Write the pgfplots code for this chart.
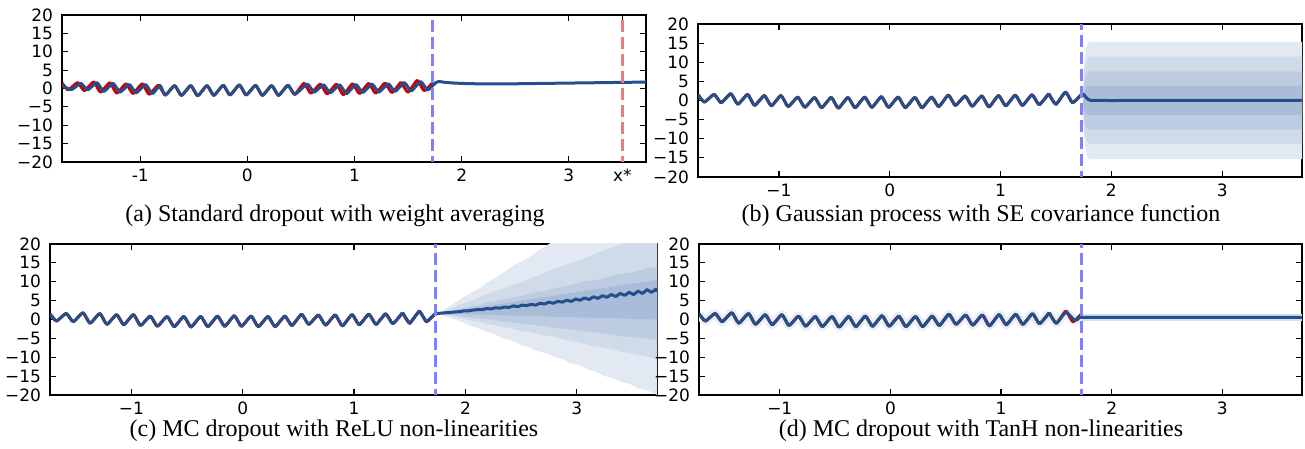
\documentclass[border=0pt]{standalone}
\usepackage{fontspec}
\setmainfont{Liberation Serif}
\newfontfamily\dejavu{DejaVu Sans}
\usepackage{pgfplots}
\pgfplotsset{compat=1.18}
\usepackage{pgfplotstable}

\definecolor{meanblue}{HTML}{234F8C}
\definecolor{datared}{HTML}{CC0000}
\definecolor{dashblue}{HTML}{8080FF}
\definecolor{dashred}{HTML}{E58080}
\definecolor{bandA}{HTML}{E3E9F2}
\definecolor{bandB}{HTML}{D0DBEA}
\definecolor{bandC}{HTML}{BDCCE1}
\definecolor{bandD}{HTML}{AABDD8}
\definecolor{halo}{HTML}{EAEFF6}
\definecolor{halob}{HTML}{D6E0EE}

% training data (x <= 1.435), shared by all panels
\pgfplotstableread{
x y
-1.73 1.5
-1.672 -0.4
-1.585 1.6
-1.521 -0.6
-1.434 1.8
-1.370 -1.0
-1.283 1.6
-1.219 -1.3
-1.132 1.3
-1.068 -1.4
-0.981 1.3
-0.917 -1.6
-0.830 0.9
-0.766 -1.8
-0.679 0.8
-0.615 -1.9
-0.528 0.8
-0.464 -2.0
-0.377 0.8
-0.313 -1.9
-0.226 0.9
-0.162 -1.8
-0.075 1.0
-0.011 -1.8
0.076 0.9
0.140 -1.9
0.227 0.8
0.291 -1.9
0.378 0.9
0.442 -1.6
0.529 1.4
0.593 -1.3
0.680 1.2
0.744 -1.5
0.831 1.2
0.895 -1.7
0.982 1.3
1.046 -1.4
1.133 1.4
1.197 -1.3
1.284 1.5
1.348 -1.1
1.435 1.8
}\trainhead

\pgfplotsset{
  panel/.style={
    scale only axis, anchor=south west,
    xmin=-1.73, xmax=3.72, ymin=-20, ymax=20,
    ytick={-20,-15,...,20}, yticklabels={−20,−15,−10,−5,0,5,10,15,20},
    xtick={-1,0,1,2,3}, xticklabels={−1,0,1,2,3},
    tick align=inside, major tick length=3pt,
    tick style={black, line width=0.6pt},
    axis line style={line width=0.9pt},
    tick label style={font=\dejavu\fontsize{8.5}{10}\selectfont},
    yticklabel style={xshift=-1pt},
    no markers,
  },
  mean/.style={meanblue, line width=1.5pt, line join=round, smooth, tension=0.3},
  data/.style={datared, line width=1.5pt, line join=round, smooth, tension=0.3},
  split/.style={dashblue, line width=1.5pt, dash pattern=on 6pt off 2.5pt, dash phase=3pt},
}

\begin{document}
\begin{tikzpicture}
\useasboundingbox (0,0) rectangle (652.5pt,224.5pt);

% (a) standard dropout
\begin{axis}[panel, at={(31pt,143.5pt)}, width=292pt, height=73.5pt,
  xtick={-1,0,1,2,3,3.5}, xticklabels={-1,0,1,2,3,x*}]
\addplot[data] table {\trainhead};
\addplot[data] coordinates {(1.435,1.8)(1.499,-1.0)(1.586,2.2)(1.650,-0.6)(1.73,1.6)};
\addplot[mean] coordinates {
(-1.73,0.8)(-1.642,-0.3)(-1.555,1.4)(-1.491,-0.4)(-1.404,1.6)(-1.340,-0.8)
(-1.253,1.4)(-1.189,-1.0)(-1.102,1.1)(-1.038,-1.2)(-0.951,1.1)(-0.887,-1.4)
(-0.815,0.8)(-0.766,-1.8)(-0.679,0.8)(-0.615,-1.9)(-0.528,0.8)(-0.464,-2.0)
(-0.377,0.8)(-0.313,-1.9)(-0.226,0.9)(-0.162,-1.8)(-0.075,1.0)(-0.011,-1.8)
(0.076,0.9)(0.140,-1.9)(0.227,0.8)(0.291,-1.9)(0.378,0.9)(0.442,-1.6)
(0.559,1.2)(0.623,-1.0)(0.710,1.0)(0.774,-1.2)(0.861,1.0)(0.925,-1.4)
(1.012,1.1)(1.076,-1.1)(1.163,1.2)(1.227,-1.0)(1.314,1.3)(1.378,-0.8)
(1.465,1.6)(1.529,-0.7)(1.616,1.9)(1.68,-0.4)(1.73,0.8)(1.76,1.6)(1.79,1.9)
(1.85,1.65)(1.95,1.45)(2.1,1.3)(2.4,1.25)(2.8,1.4)(3.2,1.55)(3.72,1.75)};
\addplot[split] coordinates {(1.73,-20)(1.73,20)};
\addplot[dashred, line width=1.5pt, dash pattern=on 6pt off 2.5pt, dash phase=3pt] coordinates {(3.5,-20)(3.5,20)};
\end{axis}

% (b) Gaussian process
\begin{axis}[panel, at={(349pt,136pt)}, width=302pt, height=76.5pt]
\addplot[fill=bandA, draw=none] coordinates {(1.745,0)(1.75,6.9)(1.76,11.5)(1.775,14.1)(1.80,15.3)(3.8,15.3)(3.8,-15.3)(1.80,-15.3)(1.775,-14.1)(1.76,-11.5)(1.75,-6.9)} -- cycle;
\addplot[fill=bandB, draw=none] coordinates {(1.745,0)(1.75,5.2)(1.76,8.6)(1.775,10.5)(1.80,11.45)(3.8,11.45)(3.8,-11.45)(1.80,-11.45)(1.775,-10.5)(1.76,-8.6)(1.75,-5.2)} -- cycle;
\addplot[fill=bandC, draw=none] coordinates {(1.745,0)(1.75,3.4)(1.76,5.7)(1.775,7.0)(1.80,7.6)(3.8,7.6)(3.8,-7.6)(1.80,-7.6)(1.775,-7.0)(1.76,-5.7)(1.75,-3.4)} -- cycle;
\addplot[fill=bandD, draw=none] coordinates {(1.745,0)(1.75,1.7)(1.76,2.85)(1.775,3.5)(1.80,3.8)(3.8,3.8)(3.8,-3.8)(1.80,-3.8)(1.775,-3.5)(1.76,-2.85)(1.75,-1.7)} -- cycle;
\addplot[data] table {\trainhead};
\addplot[data] coordinates {(1.435,1.8)(1.499,-1.0)(1.586,2.2)(1.650,-0.6)(1.73,1.6)};
\addplot[mean] table {\trainhead};
\addplot[mean] coordinates {(1.435,1.8)(1.499,-1.0)(1.586,2.2)(1.650,-0.6)(1.73,1.6)
(1.745,1.65)(1.77,0.9)(1.79,0.3)(1.81,0.05)(1.85,0)(2.5,0)(3.72,0)};
\addplot[split] coordinates {(1.73,-20)(1.73,20)};
\end{axis}

% (c) MC dropout, ReLU
\begin{axis}[panel, at={(25pt,27pt)}, width=303.5pt, height=75.5pt]
\addplot[fill=bandA, draw=none] coordinates {
(1.75,1.6)(1.9,4.3)(1.98,5.9)(2.05,7.1)(2.13,8.3)(2.2,9.9)(2.28,11.2)(2.35,12.6)(2.43,14.3)(2.5,15.4)(2.58,16.6)(2.65,18.2)(2.73,19.6)(2.8,21.0)(2.95,23.8)(3.72,38)
(3.8,38)(3.8,-20.6)
(3.72,-20.0)(3.64,-18.8)(3.55,-18.3)(3.47,-17.0)(3.4,-16.6)(3.32,-15.4)(3.25,-15.0)(3.17,-13.8)(3.1,-13.2)(3.02,-12.0)(2.95,-11.7)(2.87,-10.5)(2.8,-9.9)(2.72,-8.9)(2.65,-8.4)(2.57,-7.3)(2.5,-6.8)(2.42,-5.6)(2.35,-5.1)(2.27,-4.0)(2.2,-3.3)(2.12,-2.4)(2.05,-1.7)(1.98,-0.8)(1.9,0.0)} -- cycle;
\addplot[fill=bandB, draw=none] coordinates {
(1.75,1.6)(1.9,3.3)(1.98,4.2)(2.05,4.9)(2.13,6.0)(2.2,6.7)(2.28,7.6)(2.35,8.3)(2.43,9.3)(2.5,9.8)(2.58,10.9)(2.65,11.6)(2.73,12.6)(2.8,13.4)(2.88,14.3)(2.95,15.0)(3.03,15.8)(3.1,16.5)(3.18,17.6)(3.25,18.4)(3.33,19.1)(3.4,20.0)(3.55,21.6)(3.72,23.5)
(3.8,23.9)(3.8,-10.8)
(3.72,-10.5)(3.63,-9.8)(3.55,-9.4)(3.47,-8.9)(3.4,-8.6)(3.32,-7.9)(3.25,-7.5)(3.17,-7.1)(3.1,-6.7)(3.02,-6.1)(2.95,-5.8)(2.87,-5.1)(2.8,-4.7)(2.72,-4.3)(2.65,-3.9)(2.57,-3.3)(2.5,-3.0)(2.42,-2.5)(2.35,-2.1)(2.27,-1.5)(2.2,-1.2)(2.12,-0.6)(2.05,-0.2)(1.98,0.3)(1.9,0.7)} -- cycle;
\addplot[fill=bandC, draw=none] coordinates {
(1.75,1.6)(1.9,2.5)(2.05,3.5)(2.13,3.9)(2.2,4.5)(2.28,4.9)(2.35,5.4)(2.43,5.9)(2.5,6.2)(2.58,6.9)(2.65,7.3)(2.73,7.7)(2.8,8.3)(2.88,8.7)(2.95,9.1)(3.03,9.8)(3.1,10.2)(3.18,10.5)(3.25,11.0)(3.33,11.7)(3.4,12.1)(3.48,12.4)(3.55,12.9)(3.63,13.6)(3.72,14.0)
(3.8,14.3)(3.8,-5.8)
(3.72,-5.5)(3.63,-5.1)(3.55,-4.8)(3.47,-4.6)(3.4,-4.4)(3.32,-4.0)(3.25,-3.8)(3.17,-3.4)(3.1,-3.2)(3.02,-2.9)(2.95,-2.7)(2.87,-2.4)(2.8,-2.2)(2.72,-1.8)(2.65,-1.6)(2.57,-1.3)(2.5,-1.1)(2.42,-0.8)(2.35,-0.6)(2.27,-0.2)(2.2,0.0)(2.05,0.5)(1.9,1.1)} -- cycle;
\addplot[fill=bandD, draw=none] coordinates {
(1.75,1.6)(1.9,2.3)(2.05,3.0)(2.2,3.6)(2.35,4.3)(2.5,5.0)(2.65,5.7)(2.8,6.3)(2.95,7.0)(3.1,7.7)(3.25,8.4)(3.4,9.1)(3.55,9.7)(3.72,10.5)
(3.8,10.8)(3.8,-0.1)
(3.72,0.0)(3.55,0.1)(3.4,0.3)(3.25,0.4)(3.1,0.5)(2.95,0.6)(2.8,0.7)(2.65,0.9)(2.5,1.0)(2.35,1.1)(2.2,1.2)(2.05,1.4)(1.9,1.5)} -- cycle;
\addplot[data] table {\trainhead};
\addplot[data] coordinates {(1.435,1.8)(1.499,-1.0)(1.586,2.2)(1.650,-0.6)(1.73,1.6)};
\addplot[mean] table {\trainhead};
\addplot[mean, tension=0.1] coordinates {(1.435,1.8)(1.499,-1.0)(1.586,2.2)(1.650,-0.6)(1.73,1.6)
(1.75,1.6)(1.79,1.7)(1.83,1.8)(1.87,1.9)(1.91,2.0)(1.95,2.1)(1.99,2.3)(2.03,2.3)
(2.07,2.5)(2.11,2.6)(2.15,2.6)(2.19,2.9)(2.23,2.8)(2.27,3.1)(2.31,3.0)(2.35,3.3)
(2.39,3.2)(2.43,3.6)(2.47,3.4)(2.51,3.8)(2.55,3.7)(2.59,4.0)(2.63,3.8)(2.67,4.3)
(2.71,4.1)(2.75,4.6)(2.79,4.3)(2.83,4.8)(2.87,4.6)(2.91,5.1)(2.95,4.8)(2.99,5.4)
(3.03,5.1)(3.07,5.7)(3.11,5.3)(3.15,6.0)(3.19,5.6)(3.23,6.3)(3.27,5.9)(3.31,6.6)
(3.35,6.1)(3.39,6.9)(3.43,6.4)(3.47,7.2)(3.51,6.6)(3.55,7.5)(3.59,6.9)(3.63,7.9)
(3.67,7.2)(3.71,8.0)(3.72,7.4)};
\addplot[split] coordinates {(1.73,-20)(1.73,20)};
\end{axis}

% (d) MC dropout, TanH
\begin{axis}[panel, at={(349.5pt,27pt)}, width=301.5pt, height=75.5pt]
\addplot[halo, line width=4.5pt, line join=round, smooth, tension=0.3] table {\trainhead};
\addplot[halo, line width=4.5pt, line join=round, smooth, tension=0.3] coordinates {(1.435,1.8)(1.499,-1.0)(1.586,1.9)(1.665,-0.2)(1.73,0.5)};
\addplot[halob, line width=3.5pt] coordinates {(1.73,0.55)(3.8,0.55)};
\addplot[data] table {\trainhead};
\addplot[data] coordinates {(1.435,1.8)(1.499,-1.0)(1.586,2.2)(1.650,-0.6)(1.73,1.6)};
\addplot[mean] table {\trainhead};
\addplot[mean] coordinates {(1.435,1.8)(1.499,-1.0)(1.586,1.9)(1.665,-0.2)(1.70,0.2)(1.73,0.55)(2.5,0.55)(3.72,0.55)};
\addplot[split] coordinates {(1.73,-20)(1.73,20)};
\end{axis}

\begin{scope}[every node/.style={anchor=base, inner sep=0pt, font=\fontsize{12}{14}\selectfont}]
\node at (167.5pt,113.5pt) {(a) Standard dropout with weight averaging};
\node at (490.5pt,113.5pt) {(b) Gaussian process with SE covariance function};
\node at (167pt,6pt) {(c) MC dropout with ReLU non-linearities};
\node at (490.5pt,6pt) {(d) MC dropout with TanH non-linearities};
\end{scope}
\end{tikzpicture}
\end{document}
